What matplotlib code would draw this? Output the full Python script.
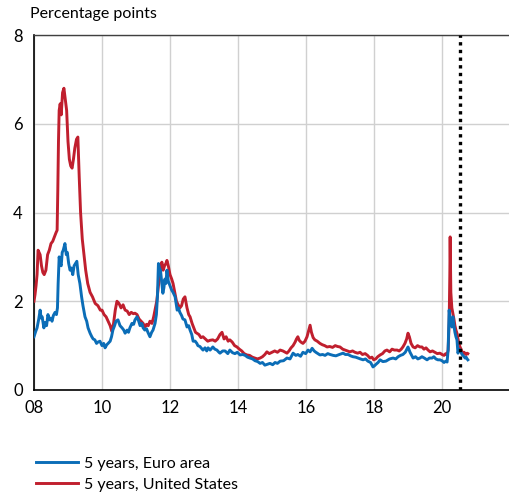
import matplotlib
matplotlib.use("Agg")
import matplotlib.pyplot as plt

plt.rcParams["font.family"] = ["Lato", "DejaVu Sans"]

# 5-year spreads (decimal year, percentage points)
ea_years = [
    2008.00, 2008.05, 2008.09, 2008.14, 2008.18, 2008.21, 2008.24, 2008.29, 2008.33, 2008.37,
    2008.41, 2008.45, 2008.49, 2008.53, 2008.57, 2008.62, 2008.66, 2008.69, 2008.71, 2008.74,
    2008.77, 2008.80, 2008.83, 2008.86, 2008.91, 2008.95, 2008.98, 2009.02, 2009.06, 2009.10,
    2009.14, 2009.18, 2009.22, 2009.26, 2009.30, 2009.35, 2009.40, 2009.44, 2009.50, 2009.55,
    2009.59, 2009.65, 2009.70, 2009.74, 2009.79, 2009.84, 2009.88, 2009.94, 2010.00, 2010.05,
    2010.09, 2010.14, 2010.18, 2010.24, 2010.28, 2010.32, 2010.37, 2010.41, 2010.47, 2010.53,
    2010.59, 2010.64, 2010.68, 2010.74, 2010.78, 2010.82, 2010.88, 2010.93, 2010.97, 2011.03,
    2011.08, 2011.12, 2011.17, 2011.21, 2011.26, 2011.31, 2011.35, 2011.41, 2011.46, 2011.50,
    2011.56, 2011.60, 2011.63, 2011.66, 2011.69, 2011.72, 2011.76, 2011.79, 2011.82, 2011.85,
    2011.88, 2011.91, 2011.95, 2012.00, 2012.05, 2012.09, 2012.15, 2012.21, 2012.25, 2012.29,
    2012.34, 2012.38, 2012.44, 2012.50, 2012.55, 2012.59, 2012.64, 2012.68, 2012.74, 2012.79,
    2012.82, 2012.88, 2012.97, 2013.03, 2013.08, 2013.12, 2013.18, 2013.26, 2013.32, 2013.38,
    2013.44, 2013.47, 2013.55, 2013.62, 2013.70, 2013.76, 2013.84, 2013.91, 2013.98, 2014.06,
    2014.14, 2014.21, 2014.28, 2014.35, 2014.43, 2014.50, 2014.58, 2014.65, 2014.72, 2014.79,
    2014.87, 2014.94, 2015.02, 2015.09, 2015.16, 2015.24, 2015.34, 2015.44, 2015.53, 2015.62,
    2015.70, 2015.76, 2015.84, 2015.91, 2015.99, 2016.06, 2016.12, 2016.18, 2016.24, 2016.29,
    2016.35, 2016.41, 2016.49, 2016.56, 2016.64, 2016.71, 2016.80, 2016.88, 2016.98, 2017.09,
    2017.16, 2017.24, 2017.31, 2017.38, 2017.46, 2017.53, 2017.60, 2017.68, 2017.75, 2017.82,
    2017.90, 2017.97, 2018.02, 2018.06, 2018.12, 2018.18, 2018.26, 2018.35, 2018.46, 2018.56,
    2018.64, 2018.71, 2018.78, 2018.85, 2018.92, 2019.00, 2019.06, 2019.15, 2019.22, 2019.29,
    2019.35, 2019.41, 2019.48, 2019.56, 2019.63, 2019.71, 2019.76, 2019.82, 2019.88, 2019.94,
    2020.00, 2020.06, 2020.11, 2020.15, 2020.18, 2020.21, 2020.24, 2020.27, 2020.29, 2020.32,
    2020.35, 2020.38, 2020.41, 2020.44, 2020.47, 2020.50, 2020.53, 2020.56, 2020.59, 2020.62,
    2020.65, 2020.68, 2020.71, 2020.74, 2020.76,
]
ea_values = [
    1.20, 1.32, 1.40, 1.60, 1.80, 1.62, 1.65, 1.40, 1.52, 1.45,
    1.70, 1.58, 1.62, 1.55, 1.68, 1.75, 1.70, 1.85, 2.40, 3.00,
    2.85, 2.80, 3.10, 3.15, 3.30, 3.05, 3.10, 2.85, 2.70, 2.75,
    2.60, 2.80, 2.85, 2.90, 2.60, 2.40, 2.10, 1.90, 1.65, 1.55,
    1.40, 1.28, 1.20, 1.15, 1.13, 1.05, 1.08, 1.10, 1.00, 1.05,
    0.95, 1.02, 1.05, 1.10, 1.20, 1.35, 1.45, 1.55, 1.58, 1.45,
    1.40, 1.35, 1.28, 1.35, 1.30, 1.40, 1.50, 1.48, 1.58, 1.65,
    1.55, 1.45, 1.50, 1.40, 1.35, 1.38, 1.30, 1.20, 1.30, 1.35,
    1.50, 1.70, 2.10, 2.85, 2.75, 2.70, 2.40, 2.18, 2.30, 2.50,
    2.40, 2.70, 2.45, 2.35, 2.25, 2.20, 2.10, 1.80, 1.85, 1.75,
    1.68, 1.60, 1.58, 1.42, 1.45, 1.35, 1.25, 1.10, 1.10, 1.05,
    1.00, 0.98, 0.90, 0.95, 0.88, 0.95, 0.90, 0.97, 0.92, 0.90,
    0.85, 0.83, 0.88, 0.88, 0.82, 0.90, 0.84, 0.82, 0.85, 0.79,
    0.80, 0.78, 0.74, 0.72, 0.70, 0.66, 0.64, 0.60, 0.62, 0.56,
    0.58, 0.60, 0.57, 0.62, 0.60, 0.65, 0.66, 0.72, 0.70, 0.83,
    0.78, 0.80, 0.76, 0.85, 0.82, 0.90, 0.86, 0.94, 0.88, 0.85,
    0.82, 0.79, 0.80, 0.78, 0.82, 0.80, 0.78, 0.77, 0.80, 0.83,
    0.80, 0.80, 0.77, 0.75, 0.74, 0.72, 0.70, 0.68, 0.70, 0.65,
    0.62, 0.52, 0.55, 0.58, 0.62, 0.68, 0.64, 0.65, 0.70, 0.72,
    0.70, 0.75, 0.78, 0.80, 0.85, 0.97, 0.85, 0.72, 0.75, 0.70,
    0.72, 0.75, 0.72, 0.68, 0.72, 0.72, 0.75, 0.70, 0.68, 0.68,
    0.66, 0.62, 0.65, 0.63, 0.90, 1.80, 1.60, 1.55, 1.42, 1.65,
    1.45, 1.30, 1.20, 1.13, 0.83, 0.92, 0.90, 0.85, 0.80, 0.78,
    0.75, 0.72, 0.74, 0.70, 0.68,
]

us_years = [
    2008.00, 2008.03, 2008.06, 2008.09, 2008.12, 2008.15, 2008.18, 2008.22, 2008.26, 2008.30,
    2008.35, 2008.40, 2008.45, 2008.50, 2008.55, 2008.60, 2008.65, 2008.68, 2008.70, 2008.72,
    2008.74, 2008.77, 2008.80, 2008.84, 2008.88, 2008.92, 2008.96, 2009.00, 2009.04, 2009.08,
    2009.12, 2009.16, 2009.20, 2009.25, 2009.29, 2009.33, 2009.37, 2009.42, 2009.47, 2009.52,
    2009.58, 2009.65, 2009.72, 2009.80, 2009.88, 2009.95, 2010.00, 2010.06, 2010.12, 2010.18,
    2010.24, 2010.29, 2010.34, 2010.39, 2010.44, 2010.50, 2010.56, 2010.62, 2010.68, 2010.74,
    2010.80, 2010.86, 2010.92, 2010.97, 2011.03, 2011.09, 2011.15, 2011.21, 2011.26, 2011.31,
    2011.36, 2011.41, 2011.47, 2011.52, 2011.56, 2011.61, 2011.66, 2011.71, 2011.76, 2011.80,
    2011.84, 2011.88, 2011.91, 2011.95, 2012.00, 2012.05, 2012.09, 2012.14, 2012.19, 2012.24,
    2012.29, 2012.34, 2012.39, 2012.44, 2012.50, 2012.55, 2012.59, 2012.65, 2012.70, 2012.75,
    2012.79, 2012.85, 2012.91, 2012.97, 2013.04, 2013.11, 2013.18, 2013.26, 2013.33, 2013.40,
    2013.47, 2013.53, 2013.59, 2013.65, 2013.71, 2013.76, 2013.83, 2013.90, 2013.97, 2014.04,
    2014.11, 2014.18, 2014.26, 2014.34, 2014.42, 2014.50, 2014.57, 2014.65, 2014.72, 2014.79,
    2014.85, 2014.92, 2015.00, 2015.08, 2015.16, 2015.24, 2015.32, 2015.39, 2015.44, 2015.50,
    2015.56, 2015.62, 2015.68, 2015.72, 2015.76, 2015.80, 2015.85, 2015.91, 2015.97, 2016.03,
    2016.08, 2016.12, 2016.16, 2016.21, 2016.26, 2016.33, 2016.41, 2016.48, 2016.55, 2016.62,
    2016.70, 2016.78, 2016.86, 2016.93, 2017.00, 2017.08, 2017.15, 2017.22, 2017.29, 2017.37,
    2017.44, 2017.52, 2017.59, 2017.66, 2017.74, 2017.81, 2017.88, 2017.94, 2017.99, 2018.05,
    2018.11, 2018.18, 2018.25, 2018.32, 2018.38, 2018.46, 2018.53, 2018.60, 2018.68, 2018.74,
    2018.80, 2018.85, 2018.91, 2018.96, 2019.00, 2019.04, 2019.09, 2019.15, 2019.21, 2019.28,
    2019.35, 2019.41, 2019.47, 2019.53, 2019.59, 2019.65, 2019.72, 2019.79, 2019.86, 2019.94,
    2020.00, 2020.06, 2020.11, 2020.15, 2020.18, 2020.21, 2020.23, 2020.24, 2020.26, 2020.29,
    2020.32, 2020.35, 2020.38, 2020.41, 2020.44, 2020.47, 2020.50, 2020.53, 2020.56, 2020.59,
    2020.62, 2020.65, 2020.68, 2020.71, 2020.74, 2020.76,
]
us_values = [
    2.00, 2.15, 2.35, 2.60, 3.15, 3.10, 3.05, 2.80, 2.65, 2.60,
    2.70, 3.05, 3.15, 3.30, 3.35, 3.45, 3.55, 3.60, 4.50, 5.60,
    6.30, 6.45, 6.20, 6.70, 6.80, 6.55, 6.30, 5.60, 5.20, 5.05,
    5.00, 5.20, 5.45, 5.65, 5.70, 4.80, 4.00, 3.40, 3.05, 2.70,
    2.40, 2.20, 2.10, 1.95, 1.90, 1.80, 1.80, 1.70, 1.65, 1.55,
    1.45, 1.32, 1.50, 1.80, 2.00, 1.95, 1.85, 1.92, 1.80, 1.78,
    1.70, 1.75, 1.72, 1.73, 1.70, 1.60, 1.55, 1.50, 1.42, 1.48,
    1.45, 1.55, 1.50, 1.65, 1.80, 2.00, 2.35, 2.60, 2.88, 2.70,
    2.80, 2.85, 2.92, 2.80, 2.60, 2.50, 2.40, 2.20, 2.00, 1.92,
    1.85, 1.90, 2.05, 2.10, 1.85, 1.70, 1.65, 1.50, 1.40, 1.30,
    1.28, 1.25, 1.18, 1.20, 1.15, 1.10, 1.12, 1.13, 1.10, 1.15,
    1.25, 1.30, 1.15, 1.20, 1.10, 1.13, 1.08, 1.00, 0.97, 0.92,
    0.88, 0.82, 0.79, 0.78, 0.74, 0.72, 0.70, 0.72, 0.75, 0.80,
    0.86, 0.82, 0.85, 0.88, 0.85, 0.90, 0.88, 0.85, 0.83, 0.88,
    0.95, 1.00, 1.08, 1.15, 1.20, 1.12, 1.08, 1.05, 1.10, 1.20,
    1.35, 1.46, 1.30, 1.18, 1.13, 1.10, 1.05, 1.02, 1.00, 0.97,
    0.98, 0.96, 1.00, 0.98, 0.97, 0.92, 0.90, 0.88, 0.86, 0.88,
    0.85, 0.83, 0.85, 0.80, 0.82, 0.78, 0.72, 0.74, 0.68, 0.70,
    0.75, 0.79, 0.82, 0.88, 0.90, 0.86, 0.92, 0.90, 0.90, 0.88,
    0.92, 0.97, 1.05, 1.15, 1.28, 1.20, 1.05, 0.97, 0.95, 1.00,
    0.97, 0.97, 0.92, 0.95, 0.90, 0.86, 0.88, 0.85, 0.82, 0.83,
    0.80, 0.78, 0.82, 0.79, 0.90, 1.50, 2.60, 3.45, 2.20, 1.85,
    1.73, 1.60, 1.45, 1.35, 1.28, 1.15, 1.05, 0.97, 0.92, 0.86,
    0.83, 0.85, 0.82, 0.80, 0.83, 0.82,
]

x_ticks = [2008, 2010, 2012, 2014, 2016, 2018, 2020]
x_labels = ["08", "10", "12", "14", "16", "18", "20"]
y_ticks = [0, 2, 4, 6, 8]
cutoff = 2020.53

blue = "#0b6db7"
red = "#c01f2e"

fig = plt.figure(figsize=(5.10, 4.93), dpi=100)
ax = fig.add_axes([34 / 510, 103 / 493, 476 / 510, 355 / 493])

(l_us,) = ax.plot(us_years, us_values, color=red, lw=2.1, zorder=3,
                  label="5 years, United States")
(l_ea,) = ax.plot(ea_years, ea_values, color=blue, lw=2.1, zorder=4,
                  label="5 years, Euro area")
ax.axvline(cutoff, color="black", lw=2.4, ls=(0, (1, 1.3)), zorder=5)

ax.set_xlim(2008, 2022)
ax.set_ylim(0, 8)
ax.set_xticks(x_ticks)
ax.set_xticklabels(x_labels)
ax.set_yticks(y_ticks)
ax.tick_params(length=0, labelsize=12, pad=7)
ax.tick_params(axis="y", pad=8)
ax.grid(True, color="#d0d0d0", lw=1)
ax.set_axisbelow(True)
for side in ["left", "bottom"]:
    ax.spines[side].set_color("black")
    ax.spines[side].set_linewidth(1.2)
ax.spines["top"].set_color("#404040")
ax.spines["top"].set_linewidth(1.0)
ax.spines["right"].set_visible(False)

fig.text(30 / 510, 1 - 14 / 493, "Percentage points", fontsize=11.5,
         va="center", ha="left")

fig.legend(handles=[l_ea, l_us], loc="upper left",
           bbox_to_anchor=(30 / 510, 1 - 450 / 493), frameon=False,
           fontsize=11.5, handlelength=2.6, handletextpad=0.35,
           labelspacing=0.45, borderaxespad=0)

fig.savefig("out.png", dpi=100)
